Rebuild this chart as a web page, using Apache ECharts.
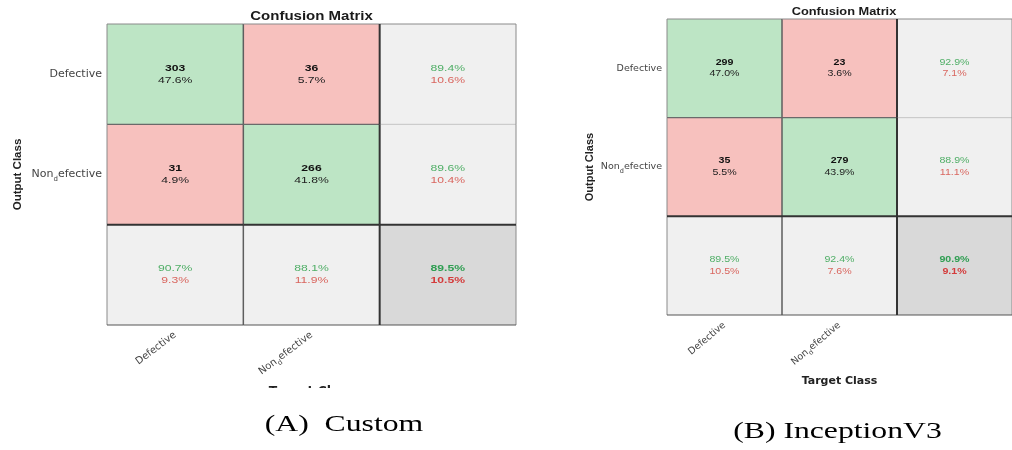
<!DOCTYPE html>
<html>
<head>
<meta charset="utf-8">
<script src="https://cdn.jsdelivr.net/npm/echarts@6/dist/echarts.min.js"></script>
<style>
  html, body { margin: 0; padding: 0; background: #ffffff; }
  #chart { width: 1012px; height: 450px; }
</style>
</head>
<body>
<div id="chart"></div>
<script>
// Class names (rows = output class, columns = target class)
const classes = ['Defective', 'Non_defective'];
// Confusion counts for each model
const countsCustom = [[303, 36], [31, 266]];
const countsInception = [[299, 23], [35, 279]];
// Texts
const panelTitle = 'Confusion Matrix';
const xAxisTitle = 'Target Class';
const yAxisTitle = 'Output Class';
const captions = ['(A)  Custom', '(B) InceptionV3'];

function pct(v) { return (v * 100).toFixed(1) + '%'; }

// Cells: [column, row, line1, line2, kind]
function buildCells(m) {
  const total = m[0][0] + m[0][1] + m[1][0] + m[1][1];
  const cells = [];
  for (let r = 0; r < 2; r++) {
    for (let c = 0; c < 2; c++) {
      cells.push([c, r, String(m[r][c]), pct(m[r][c] / total), r === c ? 'hit' : 'miss']);
    }
  }
  for (let r = 0; r < 2; r++) {
    const s = m[r][0] + m[r][1];
    cells.push([2, r, pct(m[r][r] / s), pct(1 - m[r][r] / s), 'sum']);
  }
  for (let c = 0; c < 2; c++) {
    const s = m[0][c] + m[1][c];
    cells.push([c, 2, pct(m[c][c] / s), pct(1 - m[c][c] / s), 'sum']);
  }
  const acc = (m[0][0] + m[1][1]) / total;
  cells.push([2, 2, pct(acc), pct(1 - acc), 'all']);
  return cells;
}

const panels = [
  {
    counts: countsCustom,
    grid: { left: 107, top: 24, width: 409, height: 301 },
    cellFont: 9.5, lineGap: 6,
    yLabelFont: 11, xLabelFont: 10, subFont: 7, xRotate: 37,
    yNameGap: 83, yNameFont: 11.5, xNameGap: 56, xNameFont: 12.4,
    title: { x: 311.5, y: 16.5, size: 12, sx: 1.25 },
    caption: { x: 344, y: 425 }
  },
  {
    counts: countsInception,
    grid: { left: 667, top: 19, width: 354, height: 296 },
    cellFont: 8.3, lineGap: 5.8,
    yLabelFont: 9.5, xLabelFont: 9.5, subFont: 6.5, xRotate: 40,
    yNameGap: 72, yNameFont: 11, xNameGap: 55, xNameFont: 11,
    title: { x: 844, y: 12, size: 10.5, sx: 1.22 },
    caption: { x: 837.5, y: 432 }
  }
];

const FILL = { hit: '#bde5c5', miss: '#f7c1be', sum: '#f0f0f0', all: '#d9d9d9' };
const TEXT_STRETCH = 1.28;

function makeRenderer(cells, p) {
  return function (params, api) {
    const cell = cells[params.dataIndex];
    const col = api.value(0), row = api.value(1);
    const c = api.coord([col, row]);
    const s = api.size([1, 1]);
    const w = s[0], h = s[1];
    const x0 = c[0] - w / 2, y0 = c[1] - h / 2, x1 = x0 + w, y1 = y0 + h;
    const kind = cell[4];
    const children = [{
      type: 'rect', z2: 0,
      shape: { x: x0, y: y0, width: w, height: h },
      style: { fill: FILL[kind] }
    }];
    function edge(ax, ay, bx, by, color, lw) {
      children.push({
        type: 'line', z2: lw >= 1.8 ? 12 : (color === '#c4c4c4' ? 5 : 10),
        shape: { x1: ax, y1: ay, x2: bx, y2: by },
        style: { stroke: color, lineWidth: lw }
      });
    }
    if (row === 0) edge(x0, y0, x1, y0, '#8a8a8a', 1);
    if (col === 0) edge(x0, y0, x0, y1, '#8a8a8a', 1);
    if (col === 0) edge(x1, y0, x1, y1, '#5e5e5e', 1.5);
    else if (col === 1) edge(x1, y0, x1, y1, '#333333', 2);
    else edge(x1, y0, x1, y1, '#8a8a8a', 1);
    if (row === 0) edge(x0, y1, x1, y1, col < 2 ? '#6a6a6a' : '#c4c4c4', col < 2 ? 1.3 : 1);
    else if (row === 1) edge(x0, y1, x1, y1, '#333333', 2);
    else edge(x0, y1, x1, y1, '#555555', 1.2);

    let c1, c2, w1, w2;
    if (kind === 'hit' || kind === 'miss') {
      c1 = '#111111'; c2 = '#222222'; w1 = 'bold'; w2 = 'normal';
    } else if (kind === 'sum') {
      c1 = '#4fae66'; c2 = '#d9665f'; w1 = 'normal'; w2 = 'normal';
    } else {
      c1 = '#2f9e52'; c2 = '#d43c3c'; w1 = 'bold'; w2 = 'bold';
    }
    [[cell[2], -p.lineGap, c1, w1], [cell[3], p.lineGap, c2, w2]].forEach(function (t) {
      children.push({
        type: 'text', z2: 20,
        x: c[0], y: c[1] + t[1], scaleX: TEXT_STRETCH,
        style: {
          text: t[0], align: 'center', verticalAlign: 'middle',
          fontFamily: 'Liberation Sans, Arial, sans-serif',
          fontSize: p.cellFont, fontWeight: t[3], fill: t[2]
        }
      });
    });
    return { type: 'group', children: children };
  };
}

function classLabel(v) {
  return v.replace(/_(.)/, '{sub|$1}');
}

const grids = [], xAxes = [], yAxes = [], series = [], graphics = [];
panels.forEach(function (p, i) {
  const cells = buildCells(p.counts);
  const cats = classes.concat(['']);
  grids.push(Object.assign({ containLabel: false }, p.grid));
  xAxes.push({
    gridIndex: i, type: 'category', data: cats, position: 'bottom',
    axisLine: { show: false }, axisTick: { show: false }, splitLine: { show: false },
    axisLabel: {
      interval: 0, rotate: p.xRotate, margin: 9,
      fontFamily: 'DejaVu Sans', fontSize: p.xLabelFont, color: '#444', lineHeight: p.xLabelFont + 5,
      formatter: classLabel,
      rich: { sub: { fontFamily: 'DejaVu Sans', fontSize: p.subFont, color: '#444', verticalAlign: 'bottom' } }
    },
    name: xAxisTitle, nameLocation: 'middle', nameGap: p.xNameGap,
    nameTextStyle: { fontFamily: 'DejaVu Sans', fontWeight: 'bold', fontSize: p.xNameFont, color: '#222' }
  });
  yAxes.push({
    gridIndex: i, type: 'category', data: cats, inverse: true,
    axisLine: { show: false }, axisTick: { show: false }, splitLine: { show: false },
    axisLabel: {
      interval: 0, margin: 5,
      fontFamily: 'DejaVu Sans', fontSize: p.yLabelFont, color: '#444', lineHeight: p.yLabelFont + 6,
      formatter: classLabel,
      rich: { sub: { fontFamily: 'DejaVu Sans', fontSize: p.subFont, color: '#444', verticalAlign: 'bottom' } }
    },
    name: yAxisTitle, nameLocation: 'middle', nameGap: p.yNameGap,
    nameTextStyle: { fontFamily: 'Liberation Sans', fontWeight: 'bold', fontSize: p.yNameFont, color: '#222' }
  });
  series.push({
    type: 'custom', xAxisIndex: i, yAxisIndex: i,
    encode: { x: 0, y: 1 },
    data: cells.map(function (d) { return [d[0], d[1]]; }),
    renderItem: makeRenderer(cells, p)
  });
  graphics.push({
    type: 'text', x: p.title.x, y: p.title.y, scaleX: p.title.sx,
    style: {
      text: panelTitle, align: 'center', verticalAlign: 'middle',
      fontFamily: 'Liberation Sans', fontWeight: 'bold', fontSize: p.title.size, fill: '#1a1a1a'
    }
  });
  graphics.push({
    type: 'text', x: p.caption.x, y: p.caption.y, scaleX: 1.32,
    style: {
      text: captions[i], align: 'center', verticalAlign: 'middle',
      fontFamily: 'Liberation Serif', fontSize: 24, fill: '#000000'
    }
  });
});

// The left panel's lower axis title is cut off below its top edge
graphics.push({
  type: 'rect', z: 10,
  shape: { x: 230, y: 388, width: 170, height: 16 },
  style: { fill: '#ffffff' }
});

const chart = echarts.init(document.getElementById('chart'), null, { renderer: 'canvas' });
chart.setOption({
  backgroundColor: '#ffffff',
  animation: false,
  grid: grids,
  xAxis: xAxes,
  yAxis: yAxes,
  series: series,
  graphic: graphics
});
</script>
</body>
</html>
